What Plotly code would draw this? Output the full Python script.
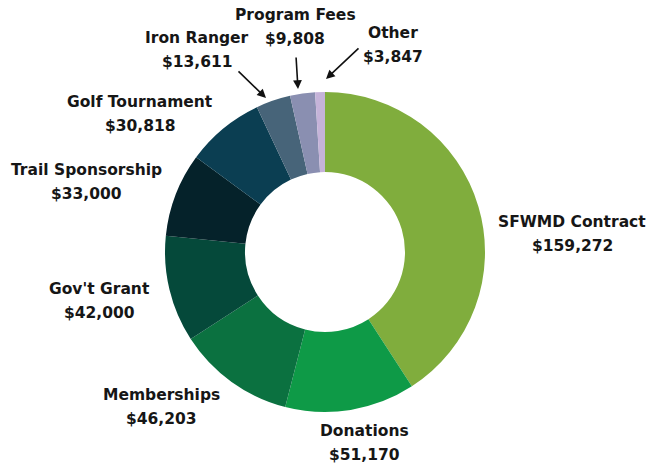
import plotly.graph_objects as go

W, H = 657, 465

# ---- data ----
categories = ["SFWMD Contract", "Donations", "Memberships", "Gov't Grant",
              "Trail Sponsorship", "Golf Tournament", "Iron Ranger",
              "Program Fees", "Other"]
amounts = [159272, 51170, 46203, 42000, 33000, 30818, 13611, 9808, 3847]
colors = ["#80ad3d", "#0e9a47", "#0b7140", "#05493a", "#05222a",
          "#0b3e52", "#476479", "#8a8fb1", "#c5b3d9"]

# ---- label layout (pixel centres of the name line) ----
label_pos = {
    "SFWMD Contract": (572, 222),
    "Donations": (364, 431),
    "Memberships": (161, 395),
    "Gov't Grant": (99, 289),
    "Trail Sponsorship": (86, 170),
    "Golf Tournament": (140, 102),
    "Iron Ranger": (197, 38),
    "Program Fees": (295, 15),
    "Other": (393, 33),
}
# arrows: (head_x, head_y, tail_x, tail_y) in pixels
arrows = {
    "Iron Ranger": (266, 98, 237, 70),
    "Program Fees": (298, 89, 296, 56),
    "Other": (326, 79, 360, 47),
}

cx, cy, r = 325, 252, 160

fig = go.Figure(go.Pie(
    labels=categories,
    values=amounts,
    marker=dict(colors=colors, line=dict(width=0)),
    hole=0.5,
    sort=False,
    direction="clockwise",
    rotation=0,
    textinfo="none",
    hoverinfo="label+value",
    domain=dict(x=[(cx - r) / W, (cx + r) / W],
                y=[(H - cy - r) / H, (H - cy + r) / H]),
    showlegend=False,
))

font = dict(family="DejaVu Sans, sans-serif", size=15.5,
            color="#161616", weight="bold")
ann = []
for name, val in zip(categories, amounts):
    px, py = label_pos[name]
    ann.append(dict(x=px / W, y=1 - py / H, xref="paper", yref="paper",
                    text=name, showarrow=False, font=font,
                    xanchor="center", yanchor="middle"))
    ann.append(dict(x=px / W, y=1 - (py + 24) / H, xref="paper", yref="paper",
                    text=f"${val:,}", showarrow=False, font=font,
                    xanchor="center", yanchor="middle"))
for name, (hx, hy, tx, ty) in arrows.items():
    ann.append(dict(x=hx / W, y=1 - hy / H, xref="paper", yref="paper",
                    ax=tx - hx, ay=ty - hy, axref="pixel", ayref="pixel",
                    text="", showarrow=True, arrowhead=2, arrowsize=1.1,
                    arrowwidth=1.6, arrowcolor="#111111"))

fig.update_layout(
    width=W, height=H,
    margin=dict(l=0, r=0, t=0, b=0),
    paper_bgcolor="white", plot_bgcolor="white",
    annotations=ann,
)

fig.write_html("out.html",
               config={"displayModeBar": False},
               post_script="document.body.style.margin='0';document.body.style.overflow='hidden';")
